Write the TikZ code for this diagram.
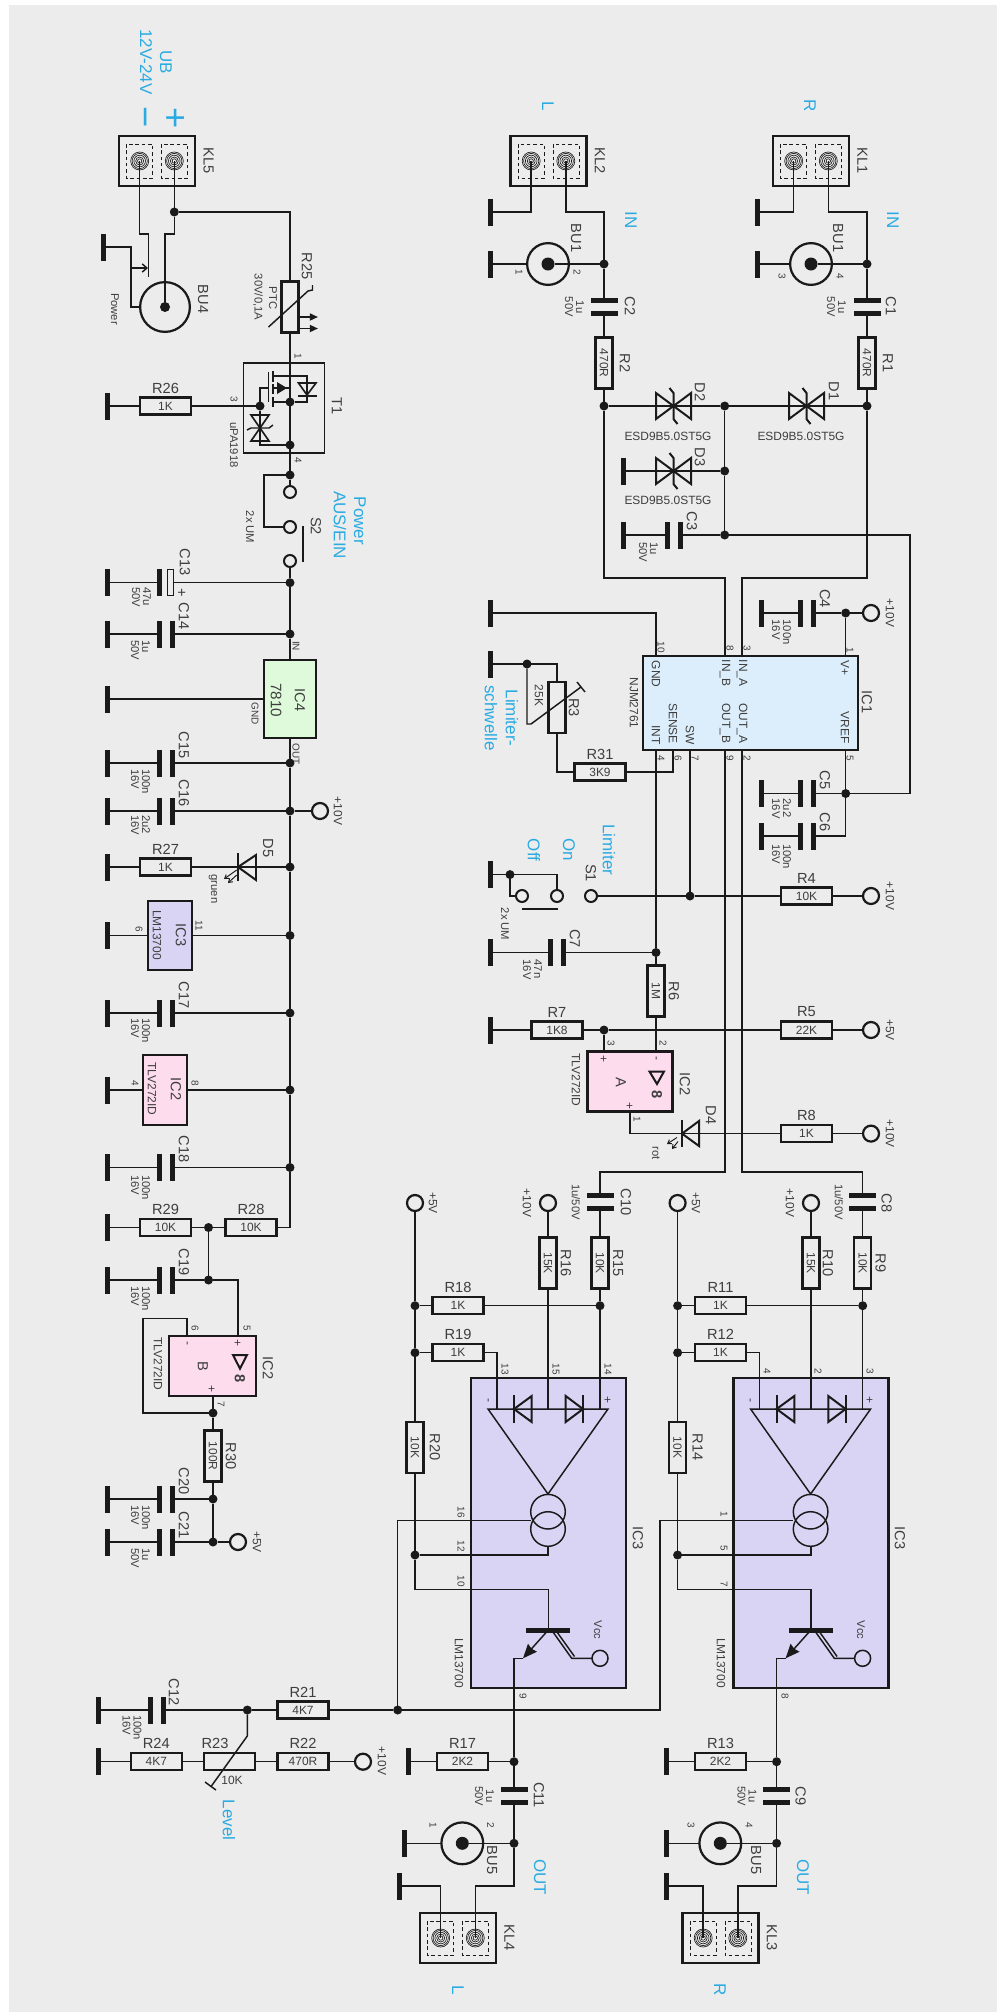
\documentclass[tikz,border=0pt]{standalone}
\usepackage{fontspec}
\setmainfont{Liberation Sans}
\usetikzlibrary{arrows.meta,calc}
\definecolor{paper}{HTML}{ECECEC}
\definecolor{ink}{HTML}{1A1A1A}
\definecolor{txt}{HTML}{3E3E3E}
\definecolor{cyanlbl}{HTML}{29ABE2}
\definecolor{icblue}{HTML}{DCEEFB}
\definecolor{icgreen}{HTML}{DFFADB}
\definecolor{icpink}{HTML}{FDDCEE}
\definecolor{icviolet}{HTML}{D9D4F4}
\newlength{\px}
\setlength{\px}{0.03cm}
\tikzset{
 every node/.style={outer sep=0pt},
 wire/.style={draw=ink,line width=1.25pt},
 sym/.style={draw=ink,line width=1.7pt,line join=miter},
 thinsym/.style={draw=ink,line width=0.55pt},
 partname/.style={font=\fontsize{12.5}{13}\selectfont,text=txt,inner sep=0pt},
 partval/.style={font=\fontsize{10.2}{11}\selectfont,text=txt,inner sep=0pt},
 capval/.style={font=\fontsize{9.6}{9.4}\selectfont,text=txt,inner sep=0pt},
 pinno/.style={font=\fontsize{8.5}{9}\selectfont,text=txt,inner sep=0pt},
 bluetxt/.style={font=\fontsize{14.5}{15}\selectfont,text=cyanlbl,inner sep=0pt},
 rot/.style={rotate=-90},
 res/.style={draw=ink,line width=1.9pt,rectangle,minimum width=51\px,minimum height=17\px,inner sep=0pt,font=\fontsize{10.2}{11}\selectfont,text=txt},
 junc/.style={circle,fill=ink,minimum size=9\px,inner sep=0pt},
 gnd/.style={rectangle,fill=ink,minimum width=5\px,minimum height=27\px,inner sep=0pt},
 vplate/.style={rectangle,fill=ink,minimum width=5\px,minimum height=27\px,inner sep=0pt},
 hplate/.style={rectangle,fill=ink,minimum width=27\px,minimum height=5\px,inner sep=0pt},
 ring/.style={circle,draw=ink,line width=1.9pt,minimum size=16\px,inner sep=0pt},
 swring/.style={circle,draw=ink,line width=1.7pt,minimum size=12\px,inner sep=0pt},
 icbox/.style={rectangle,draw=ink,line width=1.9pt,inner sep=0pt},
}
\newcommand{\reshor}[5][0]{
 \node[res] (#2) at (#3,#4) {#5};
 \node[partname] (#2n) at ($(#3,#4)+(#1,-18)$) {#2};
}
\newcommand{\resver}[5][19]{
 \node[res,rot] (#2) at (#3,#4) {#5};
 \node[partname,rot] (#2n) at ($(#3,#4)+(#1,0)$) {#2};
}
\newcommand{\capv}[5]{
 \node[vplate] (#1a) at (#2-6.5,#3) {};
 \node[vplate] (#1b) at (#2+6.5,#3) {};
 \node[partname,rot] (#1n) at (#4,#5) {#1};
}
\newcommand{\caph}[5]{
 \node[hplate] (#1a) at (#2,#3-6.5) {};
 \node[hplate] (#1b) at (#2,#3+6.5) {};
 \node[partname,rot] (#1n) at (#4,#5) {#1};
}
\newcommand{\twoval}[5]{
 \node[capval,rot,anchor=west,align=left] (#1v) at (#2,#3) {#4\\#5};
}
\newcommand{\midval}[5]{
 \node[capval,rot,align=center] (#1v) at (#2,#3) {#4\\#5};
}
\newcommand{\klemme}[3]{
 \node[icbox,minimum width=76\px,minimum height=50\px] (#1) at (#2,#3) {};
 \draw[line width=0.85pt,draw=ink,dash pattern=on 3pt off 2.4pt] (#2-30.5,#3-17) rectangle (#2-4.5,#3+17);
 \draw[line width=0.85pt,draw=ink,dash pattern=on 3pt off 2.4pt] (#2+4.5,#3-17) rectangle (#2+30.5,#3+17);
 \coordinate (#1a) at (#2-17.3,#3);
 \coordinate (#1b) at (#2+17.3,#3);
 \foreach \r in {2.2,4,5.8,7.6,9}{
  \draw[thinsym] (#1a) circle (\r\px);
  \draw[thinsym] (#1b) circle (\r\px);
 }
 \node[partname,rot] (#1n) at (#2+51.5,#3) {#1};
}
\newcommand{\buchse}[5]{
 \node[circle,draw=ink,line width=1.9pt,minimum size=#4*2\px-1.9pt,inner sep=0pt] (#1) at (#2,#3) {};
 \node[circle,fill=ink,minimum size=#5*2\px,inner sep=0pt] (#1c) at (#2,#3) {};
}
\newcommand{\tvsdiode}[2]{
 \draw[sym] (#1,#2) -- (#1-17.5,#2-13) -- (#1-17.5,#2+13) -- cycle;
 \draw[sym] (#1,#2) -- (#1+17.5,#2-13) -- (#1+17.5,#2+13) -- cycle;
 \draw[sym] (#1-4,#2-18) -- (#1,#2-13) -- (#1,#2+13) -- (#1+4,#2+18);
}
\newcommand{\lmcore}[2]{
 \begin{scope}[shift={(#2,0)}]
 \draw[wire] (488,1409) -- (608,1409) -- (548,1494) -- cycle;
 \draw[sym] (531.7,1396) -- (531.7,1422) -- (514,1409) -- cycle;
 \draw[sym] (514,1395) -- (514,1423);
 \draw[sym] (565.7,1396) -- (565.7,1422) -- (583,1409) -- cycle;
 \draw[sym] (583,1395) -- (583,1423);
 \draw[wire] (548,1511.7) circle (17.3\px);
 \draw[wire] (548,1529) circle (17.3\px);
 \node[rectangle,fill=ink,minimum width=44\px,minimum height=5\px,inner sep=0pt] (#1bar) at (548.3,1630) {};
 \node[circle,draw=ink,line width=1.3pt,minimum size=16\px,inner sep=0pt] (#1vcc) at (600,1658.3) {};
 \coordinate (#1e) at (514,1658.3);
 \coordinate (#1k) at (523,1658.3);
 \draw[wire,-{Stealth[length=12pt,width=10pt,inset=1pt]}] (#1bar) -- (#1k);
 \draw[wire] (#1k) -- (#1e);
 \draw[wire] (553,1632) -- (571.7,1658.3) -- (#1vcc);
 \draw[wire] (557,1632) -- (574.5,1656.5);
 \end{scope}
}

\begin{document}
\begin{tikzpicture}[x=0.03cm,y=-0.03cm]
 \useasboundingbox (0,0) rectangle (1008,2012);
 \fill[paper] (9,5) rectangle (997,2012);

 \klemme{KL5}{157}{161}
 \node[bluetxt,rot] (tub) at (166,62) {UB};
 \node[bluetxt,rot] (tubv) at (146,62) {12V-24V};
 \node[bluetxt,rot,font=\fontsize{31}{31}\selectfont] (tminus) at (140,117.5) {−};
 \node[bluetxt,rot,font=\fontsize{31}{31}\selectfont] (tplus) at (174,118) {+};
 \node[junc] (j1) at (174.3,212) {};
 \buchse{BU4}{165}{307}{26}{5}
 \node[partname,rot] (tBU4) at (203,299) {BU4};
 \node[capval,rot] (tpower) at (115,309) {Power};
 \coordinate (cont) at (148.5,277);
 \coordinate (cbrk) at (131,268);
 \draw[wire] (KL5a) -- (139.7,234) -- (148.5,234) -- (cont);
 \draw[wire] (KL5b) -- (j1);
 \draw[wire] (j1) -- (174.3,234) -- (165,234) -- (BU4c);
 \node[gnd] (gBU4) at (103,247) {};
 \draw[wire] (gBU4) -- (131,247) -- (131,307) -- (BU4);
 \draw[wire,-{Straight Barb[length=4pt,width=7pt]}] (cbrk) -- (148,268);

 \node[res,rot] (R25) at (290,307) {};
 \node[partname,rot] (tR25) at (307,266) {R25};
 \node[capval,rot] (tptc) at (273,298) {PTC};
 \node[capval,rot] (tptcv) at (258,297) {30V/0,1A};
 \draw[wire] (268.5,327) -- (308,291) -- (312.5,290) -- (312.5,285);
 \draw[wire,line width=1.5pt,-{Stealth[length=7pt,width=6pt,inset=0pt]}] (300,317) -- (318,317);
 \draw[wire,line width=1.5pt,-{Stealth[length=7pt,width=6pt,inset=0pt]}] (300,328.5) -- (318,328.5);
 \draw[wire] (j1) -| (R25);

 \node[icbox,line width=1.6pt,minimum width=81\px,minimum height=90\px] (T1) at (284,408) {};
 \node[partname,rot] (tT1) at (337,406) {T1};
 \node[capval,rot] (tT1v) at (234,445) {uPA1918};
 \node[pinno,rot] (pT1a) at (298,356) {1};
 \node[pinno,rot] (pT1b) at (234,399) {3};
 \node[pinno,rot] (pT1c) at (298,460) {4};
 \node[junc] (j2) at (290,402) {};
 \node[junc] (j3) at (290,445) {};
 \node[junc] (j4) at (290,475) {};
 \node[junc] (j5) at (260,406) {};
 \draw[wire] (R25) -- (j4);
 \reshor{R26}{165.5}{406}{1K}
 \node[gnd] (gR26) at (107,406) {};
 \draw[wire] (gR26) -- (R26);
 \draw[wire] (R26) -- (j5);
 \draw[wire] (268.5,372) -- (268.5,402);
 \draw[wire] (j5) |- (268.5,388);
 \draw[sym] (273,371) -- (273,382);
 \draw[sym] (273,384) -- (273,394);
 \draw[sym] (273,397) -- (273,407);
 \draw[wire] (273,376) -- (307,376) -- (307,402) -- (j2);
 \draw[wire] (273,388) -- (290,388);
 \draw[wire] (273,402) -- (j2);
 \fill[ink] (277,382) -- (287,388) -- (277,394) -- cycle;
 \draw[sym,line width=1.4pt] (298.5,383) -- (316,383) -- (307,395) -- cycle;
 \draw[sym,line width=1.4pt] (298,396) -- (317,396);
 \draw[sym,line width=1.4pt] (251,415) -- (269,415) -- (260,428) -- cycle;
 \draw[sym,line width=1.4pt] (251,441) -- (269,441) -- (260,428) -- cycle;
 \draw[sym,line width=1.2pt] (247,430) -- (251,428) -- (269,428) -- (273,425);
 \draw[wire] (j5) |- (j3);

 \node[swring] (S2a) at (290,492) {};
 \node[swring] (S2b) at (290,527) {};
 \node[swring] (S2c) at (290,561) {};
 \node[junc] (j6) at (290,582.7) {};
 \draw[wire] (j4) -- (S2a);
 \draw[wire] (j4) -- (264,475) -- (264,527) -- (S2b);
 \draw[wire] (S2c) -- (j6);
 \draw[sym] (303,526) -- (303,562);
 \node[partname,rot] (tS2) at (316,526) {S2};
 \node[capval,rot] (tS2v) at (250,527) {2x UM};
 \node[bluetxt,rot] (tpow) at (360,521) {Power};
 \node[bluetxt,rot] (tausein) at (340,525) {AUS/EIN};

 \node[icbox,fill=icgreen,minimum width=52\px,minimum height=78\px] (IC4) at (290,699) {};
 \node[partname,rot] (tIC4) at (300,700) {IC4};
 \node[partname,rot,font=\fontsize{13}{13}\selectfont] (tIC4v) at (276,700) {7810};
 \node[pinno,rot] (pIC4a) at (296,646) {IN};
 \node[pinno,rot] (pIC4b) at (255,714) {GND};
 \node[pinno,rot] (pIC4c) at (296,754) {OUT};
 \node[gnd] (gIC4) at (107,699) {};
 \draw[wire] (gIC4) -- (IC4);

 \node[junc] (j7) at (290,634) {};
 \node[junc] (j8) at (290,763) {};
 \node[junc] (j9) at (290,811) {};
 \node[junc] (j10) at (290,867) {};
 \node[junc] (j11) at (290,935.5) {};
 \node[junc] (j12) at (290,1013) {};
 \node[junc] (j13) at (290,1090) {};
 \node[junc] (j14) at (290,1167.5) {};
 \draw[wire] (j6) -- (j7);
 \draw[wire] (j7) -- (IC4);
 \draw[wire] (IC4) -- (j8);
 \draw[wire] (j8) -- (j9);
 \draw[wire] (j9) -- (j10);
 \draw[wire] (j10) -- (j11);
 \draw[wire] (j11) -- (j12);
 \draw[wire] (j12) -- (j13);
 \draw[wire] (j13) -- (j14);

 \node[gnd] (gC13) at (107,582.7) {};
 \node[vplate] (C13a) at (159,582.7) {};
 \node[rectangle,draw=ink,line width=1.1pt,minimum width=6\px,minimum height=26\px,inner sep=0pt] (C13b) at (170.5,582.7) {};
 \node[partname,rot] (C13n) at (185,562) {C13};
 \node[partname,rot] (C13p) at (181,593) {+};
 \twoval{C13}{141.5}{587}{47u}{50V}
 \draw[wire] (gC13) -- (C13a);
 \draw[wire] (C13b) -- (j6);

 \node[gnd] (gC14) at (107,634) {};
 \capv{C14}{165.5}{634}{184}{616}
 \twoval{C14}{140.5}{640}{1u}{50V}
 \draw[wire] (gC14) -- (C14a);
 \draw[wire] (C14b) -- (j7);

 \node[gnd] (gC15) at (107,763) {};
 \capv{C15}{165.5}{763}{184}{745}
 \twoval{C15}{140.5}{769}{100n}{16V}
 \draw[wire] (gC15) -- (C15a);
 \draw[wire] (C15b) -- (j8);

 \node[gnd] (gC16) at (107,811) {};
 \capv{C16}{165.5}{811}{184}{793}
 \twoval{C16}{140.5}{815}{2u2}{16V}
 \draw[wire] (gC16) -- (C16a);
 \draw[wire] (C16b) -- (j9);
 \node[ring] (rp10a) at (320,811) {};
 \node[partval,rot] (tp10a) at (338,811) {+10V};
 \draw[wire] (j9) -- (rp10a);

 \node[gnd] (gR27) at (107,867) {};
 \reshor{R27}{165.5}{867}{1K}
 \draw[wire] (gR27) -- (R27);
 \draw[wire] (R27) -- (j10);
 \draw[sym] (238,853) -- (238,881);
 \draw[sym] (238,867) -- (256,855) -- (256,880) -- cycle;
 \draw[thinsym,line width=0.8pt,-{Straight Barb[length=3pt,width=4pt]}] (236.7,870) -- (224,879);
 \draw[thinsym,line width=0.8pt,-{Straight Barb[length=3pt,width=4pt]}] (236.7,875) -- (228,883);
 \node[partname,rot] (tD5) at (268,848) {D5};
 \node[capval,rot] (tD5v) at (213,889) {gruen};

 \node[gnd] (gIC3s) at (107,935.5) {};
 \node[icbox,fill=icviolet,minimum width=44\px,minimum height=69\px] (IC3s) at (170,935.5) {};
 \node[partname,rot] (tIC3s) at (181,935) {IC3};
 \node[partval,rot] (tIC3sv) at (157,935) {LM13700};
 \node[pinno,rot] (pIC3sa) at (139,929) {6};
 \node[pinno,rot] (pIC3sb) at (199,926) {11};
 \draw[wire] (gIC3s) -- (IC3s);
 \draw[wire] (IC3s) -- (j11);

 \node[gnd] (gC17) at (107,1013) {};
 \capv{C17}{165.5}{1013}{184}{995}
 \twoval{C17}{140.5}{1018}{100n}{16V}
 \draw[wire] (gC17) -- (C17a);
 \draw[wire] (C17b) -- (j12);

 \node[gnd] (gIC2s) at (107,1090) {};
 \node[icbox,fill=icpink,minimum width=44\px,minimum height=70\px] (IC2s) at (165,1090) {};
 \node[partname,rot] (tIC2s) at (176,1089) {IC2};
 \node[partval,rot] (tIC2sv) at (152,1089) {TLV272ID};
 \node[pinno,rot] (pIC2sa) at (135,1083) {4};
 \node[pinno,rot] (pIC2sb) at (195,1083) {8};
 \draw[wire] (gIC2s) -- (IC2s);
 \draw[wire] (IC2s) -- (j13);

 \node[gnd] (gC18) at (107,1167.5) {};
 \capv{C18}{165.5}{1167.5}{184}{1149}
 \twoval{C18}{140.5}{1175}{100n}{16V}
 \draw[wire] (gC18) -- (C18a);
 \draw[wire] (C18b) -- (j14);

 \node[gnd] (gR29) at (107,1227.5) {};
 \reshor{R29}{165.5}{1227.5}{10K}
 \node[junc] (j15) at (208.5,1227.5) {};
 \reshor{R28}{251}{1227.5}{10K}
 \draw[wire] (gR29) -- (R29);
 \draw[wire] (R29) -- (j15);
 \draw[wire] (j15) -- (R28);
 \draw[wire] (R28) -| (j14);

 \node[gnd] (gC19) at (107,1280) {};
 \capv{C19}{165.5}{1280}{184}{1262}
 \twoval{C19}{140.5}{1286}{100n}{16V}
 \node[junc] (j16) at (208.5,1280) {};
 \draw[wire] (gC19) -- (C19a);
 \draw[wire] (C19b) -- (j16);
 \draw[wire] (j15) -- (j16);

 \node[icbox,fill=icpink,minimum width=87\px,minimum height=60\px] (IC2b) at (212.5,1366) {};
 \node[partname,rot] (tIC2b) at (268,1368) {IC2};
 \node[partval,rot] (tIC2bv) at (158,1364) {TLV272ID};
 \node[pinno,rot] (pIC2ba) at (247,1328) {5};
 \node[pinno,rot] (pIC2bb) at (195,1328) {6};
 \node[pinno,rot] (pIC2bc) at (221,1404) {7};
 \node[partval,rot] (tIC2bp) at (237,1343) {+};
 \node[partval,rot] (tIC2bm) at (186,1343) {-};
 \node[partval,rot] (tIC2bq) at (211,1389) {+};
 \node[partname,rot] (tIC2bB) at (203,1366) {B};
 \draw[sym] (233,1355) -- (247,1355) -- (240,1368.6) -- cycle;
 \node[partname,rot,font=\fontsize{12.5}{13}\bfseries] (tIC2b8) at (240,1379) {8};
 \coordinate (pIC2b5) at (238,1336);
 \coordinate (pIC2b6) at (187,1336);
 \coordinate (pIC2b7) at (213,1396);
 \node[junc] (j17) at (213,1413) {};
 \draw[wire] (j16) -| (pIC2b5);
 \draw[wire] (pIC2b6) -- (187,1318.6) -- (143,1318.6) -- (143,1413) -- (j17);
 \draw[wire] (pIC2b7) -- (j17);
 \resver[18]{R30}{213}{1456}{100R}
 \node[junc] (j18) at (213,1499) {};
 \node[junc] (j19) at (213,1542) {};
 \node[ring] (rp5a) at (238,1542) {};
 \node[partval,rot] (tp5a) at (257,1542) {+5V};
 \draw[wire] (j17) -- (R30);
 \draw[wire] (R30) -- (j18);
 \draw[wire] (j18) -- (j19);
 \draw[wire] (j19) -- (rp5a);
 \node[gnd] (gC20) at (107,1499) {};
 \capv{C20}{165.5}{1499}{184}{1481}
 \twoval{C20}{140.5}{1505}{100n}{16V}
 \draw[wire] (gC20) -- (C20a);
 \draw[wire] (C20b) -- (j18);
 \node[gnd] (gC21) at (107,1542) {};
 \capv{C21}{165.5}{1542}{184}{1525}
 \twoval{C21}{140.5}{1548}{1u}{50V}
 \draw[wire] (gC21) -- (C21a);
 \draw[wire] (C21b) -- (j19);

 \klemme{KL2}{548.5}{161}
 \klemme{KL1}{811}{161}
 \node[bluetxt,rot] (tLi) at (548,106) {L};
 \node[bluetxt,rot] (tRi) at (810,106) {R};
 \node[bluetxt,rot] (tINl) at (631,220) {IN};
 \node[bluetxt,rot] (tINr) at (893,220) {IN};
 \node[gnd] (gKL2) at (490,212) {};
 \node[gnd] (gBU1l) at (490,264) {};
 \node[gnd] (gKL1) at (757,212) {};
 \node[gnd] (gBU1r) at (757,264) {};
 \buchse{BU1l}{548}{264}{22}{6.5}
 \buchse{BU1r}{811}{264}{22}{6.5}
 \node[partname,rot] (tBU1l) at (576,238) {BU1};
 \node[partname,rot] (tBU1r) at (838,238) {BU1};
 \node[pinno,rot] (pBUa) at (519,272) {1};
 \node[pinno,rot] (pBUb) at (577,272) {2};
 \node[pinno,rot] (pBUc) at (782,276) {3};
 \node[pinno,rot] (pBUd) at (840,276) {4};
 \node[junc] (j20) at (604,264) {};
 \node[junc] (j20r) at (867,264) {};
 \draw[wire] (KL2a) |- (gKL2);
 \draw[wire] (KL2b) -- (565.8,212) -- (604,212) -- (j20);
 \draw[wire] (gBU1l) -- (BU1l);
 \draw[wire] (BU1lc) -- (j20);
 \draw[wire] (KL1a) |- (gKL1);
 \draw[wire] (KL1b) -- (828.3,212) -- (867,212) -- (j20r);
 \draw[wire] (gBU1r) -- (BU1r);
 \draw[wire] (BU1rc) -- (j20r);
 \caph{C2}{604}{307}{630}{306}
 \caph{C1}{867}{307}{891}{306}
 \midval{C2}{574.5}{307}{1u}{50V}
 \midval{C1}{836.5}{307}{1u}{50V}
 \resver[21]{R2}{604}{363}{470R}
 \resver[21]{R1}{867}{363}{470R}
 \node[junc] (j21) at (604,406) {};
 \node[junc] (j22) at (724.7,406) {};
 \node[junc] (j23) at (867,406) {};
 \draw[wire] (j20) -- (C2a);
 \draw[wire] (C2b) -- (R2);
 \draw[wire] (R2) -- (j21);
 \draw[wire] (j20r) -- (C1a);
 \draw[wire] (C1b) -- (R1);
 \draw[wire] (R1) -- (j23);
 \draw[wire] (j21) -- (j22);
 \draw[wire] (j22) -- (j23);
 \tvsdiode{673.5}{406}
 \tvsdiode{806.5}{406}
 \tvsdiode{673.5}{471}
 \node[partname,rot] (tD2) at (700,392) {D2};
 \node[partname,rot] (tD1) at (834,391) {D1};
 \node[partname,rot] (tD3) at (700,457) {D3};
 \node[partval] (tD2v) at (668,436) {ESD9B5.0ST5G};
 \node[partval] (tD1v) at (801,436) {ESD9B5.0ST5G};
 \node[partval] (tD3v) at (668,500) {ESD9B5.0ST5G};
 \node[gnd] (gD3) at (623,471) {};
 \node[junc] (j24) at (724.7,471) {};
 \node[junc] (j25) at (724.7,535) {};
 \draw[wire] (gD3) -- (j24);
 \draw[wire] (j22) -- (j24);
 \draw[wire] (j24) -- (j25);
 \node[gnd] (gC3) at (623,535) {};
 \capv{C3}{673.5}{535}{692}{521}
 \twoval{C3}{648.5}{542}{1u}{50V}
 \draw[wire] (gC3) -- (C3a);
 \draw[wire] (C3b) -- (j25);

 \node[icbox,fill=icblue,minimum width=215\px,minimum height=94\px] (IC1) at (750.5,703) {};
 \node[partname,rot] (tIC1) at (867,702) {IC1};
 \node[partval,rot] (tIC1v) at (634,703) {NJM2761};
 \node[partval,rot] (tGND) at (656,674) {GND};
 \node[partval,rot] (tINB) at (725,673) {IN\_B};
 \node[partval,rot] (tINA) at (742,673) {IN\_A};
 \node[partval,rot] (tVp) at (845,668) {V+};
 \node[partval,rot] (tINT) at (656,735) {INT};
 \node[partval,rot] (tSENSE) at (673,723.5) {SENSE};
 \node[partval,rot] (tSW) at (690,735) {SW};
 \node[partval,rot] (tOUTB) at (725,723.5) {OUT\_B};
 \node[partval,rot] (tOUTA) at (742,723.5) {OUT\_A};
 \node[partval,rot] (tVREF) at (845,727.5) {VREF};
 \node[pinno,rot] (pIC1a) at (661,647) {10};
 \node[pinno,rot] (pIC1b) at (730,648) {8};
 \node[pinno,rot] (pIC1c) at (747,648) {3};
 \node[pinno,rot] (pIC1d) at (850,650) {1};
 \node[pinno,rot] (pIC1e) at (661,758) {4};
 \node[pinno,rot] (pIC1f) at (678,758) {6};
 \node[pinno,rot] (pIC1g) at (695,758) {7};
 \node[pinno,rot] (pIC1h) at (730,758) {9};
 \node[pinno,rot] (pIC1i) at (747,758) {2};
 \node[pinno,rot] (pIC1j) at (850,758) {5};
 \coordinate (iGND) at (656,656);
 \coordinate (iINB) at (725,656);
 \coordinate (iINA) at (742,656);
 \coordinate (iVp) at (845.7,656);
 \coordinate (iINT) at (656,750);
 \coordinate (iSEN) at (673,750);
 \coordinate (iSW) at (690,750);
 \coordinate (iOUTB) at (725,750);
 \coordinate (iOUTA) at (742,750);
 \coordinate (iREF) at (845.7,750);
 \draw[wire] (j21) -- (604,578) -- (725,578) -- (iINB);
 \draw[wire] (j23) -- (867,578) -- (742,578) -- (iINA);
 \node[gnd] (gIC1) at (490,613) {};
 \draw[wire] (gIC1) -| (iGND);

 \node[gnd] (gC4) at (761,613) {};
 \capv{C4}{806.5}{613}{825}{598.6}
 \twoval{C4}{781.5}{619.5}{100n}{16V}
 \node[junc] (j27) at (845.7,613) {};
 \node[ring] (rp10b) at (871,613) {};
 \node[partval,rot] (tp10b) at (890,613) {+10V};
 \draw[wire] (gC4) -- (C4a);
 \draw[wire] (C4b) -- (j27);
 \draw[wire] (j27) -- (rp10b);
 \draw[wire] (j27) -- (iVp);

 \node[gnd] (gC5) at (761,793.5) {};
 \capv{C5}{806.5}{793.5}{825}{780}
 \twoval{C5}{781.5}{798.6}{2u2}{16V}
 \node[gnd] (gC6) at (761,836) {};
 \capv{C6}{806.5}{836}{825}{822}
 \twoval{C6}{781.5}{844}{100n}{16V}
 \node[junc] (j26) at (845.7,793.5) {};
 \draw[wire] (gC5) -- (C5a);
 \draw[wire] (C5b) -- (j26);
 \draw[wire] (gC6) -- (C6a);
 \draw[wire] (iREF) -- (j26);
 \draw[wire] (j26) |- (C6b);
 \draw[wire] (j25) -- (910,535) -- (910,793.5) -- (j26);

 \node[gnd] (gR3) at (490,664) {};
 \node[junc] (j30) at (527,664) {};
 \resver[17]{R3}{557}{707.5}{}
 \node[partval,rot] (tR3v) at (539,695.5) {25K};
 \reshor{R31}{600}{772}{3K9}
 \node[bluetxt,rot] (tlim) at (512,718) {Limiter-};
 \node[bluetxt,rot] (tsch) at (491,718) {schwelle};
 \draw[wire] (R3) |- (gR3);
 \draw[wire] (j30) -- (527,724) -- (531,724) -- (581,687);
 \draw[wire] (577,682) -- (585,692);
 \draw[wire] (iSEN) |- (R31);
 \draw[wire] (R31) -| (R3);

 \node[junc] (j28) at (656,952.5) {};
 \node[junc] (j31) at (690,896) {};
 \draw[wire] (iINT) -- (j28);
 \draw[wire] (iSW) -- (j31);
 \node[swring] (S1a) at (591,896) {};
 \node[swring] (S1b) at (522,896) {};
 \node[swring] (S1c) at (557,896) {};
 \node[gnd] (gS1) at (490,874.6) {};
 \node[junc] (j32) at (510,874.6) {};
 \draw[sym] (522,909) -- (558,909);
 \draw[wire] (gS1) -| (S1c);
 \draw[wire] (j32) |- (S1b);
 \node[partname,rot] (tS1) at (591,873) {S1};
 \node[capval,rot] (tS1v) at (505,924) {2x UM};
 \node[bluetxt,rot] (tlimit) at (609,850) {Limiter};
 \node[bluetxt,rot] (ton) at (569,850) {On};
 \node[bluetxt,rot] (toff) at (534,850) {Off};
 \reshor{R4}{806.5}{896}{10K}
 \node[ring] (rp10c) at (871,896) {};
 \node[partval,rot] (tp10c) at (890,896) {+10V};
 \draw[wire] (S1a) -- (j31);
 \draw[wire] (j31) -- (R4);
 \draw[wire] (R4) -- (rp10c);

 \node[gnd] (gC7) at (490,952.5) {};
 \capv{C7}{557}{952.5}{575}{938.6}
 \twoval{C7}{532.5}{959.6}{47n}{16V}
 \draw[wire] (gC7) -- (C7a);
 \draw[wire] (C7b) -- (j28);
 \resver[18]{R6}{656}{991}{1M}
 \draw[wire] (j28) -- (R6);

 \node[gnd] (gR7) at (490,1030) {};
 \reshor{R7}{557}{1030}{1K8}
 \node[junc] (j33) at (604,1030) {};
 \reshor{R5}{806.5}{1030}{22K}
 \node[ring] (rp5b) at (871,1030) {};
 \node[partval,rot] (tp5b) at (890,1030) {+5V};
 \draw[wire] (gR7) -- (R7);
 \draw[wire] (R7) -- (j33);
 \draw[wire] (j33) -- (R5);
 \draw[wire] (R5) -- (rp5b);

 \node[icbox,fill=icpink,minimum width=85\px,minimum height=60\px] (IC2a) at (630,1081.5) {};
 \node[partname,rot] (tIC2a) at (685,1084) {IC2};
 \node[partval,rot] (tIC2av) at (576,1080) {TLV272ID};
 \node[pinno,rot] (pIC2aa) at (611,1043) {3};
 \node[pinno,rot] (pIC2ab) at (663,1043) {2};
 \node[pinno,rot] (pIC2ac) at (637,1119) {1};
 \node[partval,rot] (tIC2ap) at (603,1058.5) {+};
 \node[partval,rot] (tIC2am) at (655,1058.5) {-};
 \node[partval,rot] (tIC2aq) at (629,1106) {+};
 \node[partname,rot] (tIC2aA) at (621,1082) {A};
 \draw[sym] (649.5,1071.5) -- (664,1071.5) -- (657,1084) -- cycle;
 \node[partname,rot,font=\fontsize{12.5}{13}\bfseries] (tIC2a8) at (657,1095) {8};
 \coordinate (iIC2a2) at (656,1051);
 \coordinate (iIC2a3) at (604,1051);
 \coordinate (iIC2a1) at (630,1112);
 \draw[wire] (R6) -- (iIC2a2);
 \draw[wire] (j33) -- (iIC2a3);
 \reshor{R8}{806.5}{1133.6}{1K}
 \node[ring] (rp10d) at (871,1133.6) {};
 \node[partval,rot] (tp10d) at (890,1133.6) {+10V};
 \draw[wire] (iIC2a1) |- (R8);
 \draw[wire] (R8) -- (rp10d);
 \draw[sym] (682,1120) -- (682,1147);
 \draw[sym] (682,1133.6) -- (699,1121) -- (699,1146) -- cycle;
 \draw[thinsym,line width=0.8pt,-{Straight Barb[length=3pt,width=4pt]}] (677,1137.5) -- (667,1144);
 \draw[thinsym,line width=0.8pt,-{Straight Barb[length=3pt,width=4pt]}] (678,1141.5) -- (672,1149);
 \node[partname,rot] (tD4) at (711,1115) {D4};
 \node[capval,rot] (tD4v) at (656,1153) {rot};

 \node[icbox,fill=icviolet,minimum width=155\px,minimum height=310\px] (IC3l) at (548.5,1533) {};
 \node[icbox,fill=icviolet,minimum width=155\px,minimum height=310\px] (IC3r) at (811,1533) {};
 \lmcore{ql}{0}
 \lmcore{qr}{262.6}
 \node[partname,rot] (tIC3l) at (638,1538) {IC3};
 \node[partname,rot] (tIC3r) at (900,1538) {IC3};
 \node[partval,rot] (tIC3lv) at (459,1663) {LM13700};
 \node[partval,rot] (tIC3rv) at (721,1663) {LM13700};
 \node[capval,rot] (tVccl) at (598,1630) {Vcc};
 \node[capval,rot] (tVccr) at (861,1630) {Vcc};
 \node[partval,rot] (tlm) at (487,1400) {-};
 \node[partval,rot] (tlp) at (607,1400) {+};
 \node[partval,rot] (trm) at (749,1400) {-};
 \node[partval,rot] (trp) at (869,1400) {+};
 \node[pinno,rot] (pla) at (505,1369) {13};
 \node[pinno,rot] (plb) at (556,1369) {15};
 \node[pinno,rot] (plc) at (608,1369) {14};
 \node[pinno,rot] (pld) at (461,1512) {16};
 \node[pinno,rot] (ple) at (461,1546) {12};
 \node[pinno,rot] (plf) at (461,1581) {10};
 \node[pinno,rot] (plg) at (523,1696) {9};
 \node[pinno,rot] (pra) at (767,1371) {4};
 \node[pinno,rot] (prb) at (818,1371) {2};
 \node[pinno,rot] (prc) at (870,1371) {3};
 \node[pinno,rot] (prd) at (724,1514) {1};
 \node[pinno,rot] (pre) at (724,1548) {5};
 \node[pinno,rot] (prf) at (724,1584) {7};
 \node[pinno,rot] (prg) at (785,1696) {8};

 \caph{C10}{600}{1202}{626}{1202}
 \caph{C8}{862.7}{1202}{886.7}{1203}
 \node[capval,rot] (C10v) at (576,1202) {1u/50V};
 \node[capval,rot] (C8v) at (839,1202) {1u/50V};
 \draw[wire] (iOUTB) -- (725,1172) -- (600,1172) -- (C10a);
 \draw[wire] (iOUTA) -- (742,1172) -- (862.7,1172) -- (C8a);

 \node[ring] (rp5l) at (415,1203) {};
 \node[partval,rot] (tp5l) at (433,1203) {+5V};
 \node[ring] (rp10l) at (548,1203) {};
 \node[partval,rot] (tp10l) at (527,1203) {+10V};
 \resver[18]{R16}{548}{1263}{15K}
 \resver[18]{R15}{600}{1263}{10K}
 \reshor{R18}{458}{1305.7}{1K}
 \reshor{R19}{458}{1352.7}{1K}
 \resver[20]{R20}{415}{1447.4}{10K}
 \node[junc] (j40) at (415,1305.7) {};
 \node[junc] (j41) at (415,1352.7) {};
 \node[junc] (j42) at (415,1555) {};
 \node[junc] (j43) at (600,1305.7) {};
 \coordinate (lm) at (497,1409);
 \coordinate (lb) at (548,1409);
 \coordinate (lp) at (600,1409);
 \coordinate (lc) at (530.7,1520.7);
 \coordinate (ls) at (548,1546.3);
 \draw[wire] (rp5l) -- (j40);
 \draw[wire] (j40) -- (j41);
 \draw[wire] (j41) -- (R20);
 \draw[wire] (R20) -- (j42);
 \draw[wire] (j42) -- (415,1589.3) -| (qlbar);
 \draw[wire] (j42) -| (ls);
 \draw[wire] (j40) -- (R18);
 \draw[wire] (R18) -- (j43);
 \draw[wire] (j41) -- (R19);
 \draw[wire] (R19) -| (lm);
 \draw[wire] (rp10l) -- (R16);
 \draw[wire] (R16) -- (lb);
 \draw[wire] (C10b) -- (R15);
 \draw[wire] (R15) -- (j43);
 \draw[wire] (j43) -- (lp);

 \node[ring] (rp5r) at (677.6,1203) {};
 \node[partval,rot] (tp5r) at (696,1203) {+5V};
 \node[ring] (rp10r) at (811,1203) {};
 \node[partval,rot] (tp10r) at (790,1203) {+10V};
 \resver[17]{R10}{811}{1263}{15K}
 \resver[18]{R9}{862.7}{1263}{10K}
 \reshor{R11}{720.5}{1305.7}{1K}
 \reshor{R12}{720.5}{1352.7}{1K}
 \resver[20]{R14}{677.6}{1447.4}{10K}
 \node[junc] (j44) at (677.6,1305.7) {};
 \node[junc] (j45) at (677.6,1352.7) {};
 \node[junc] (j46) at (677.6,1555) {};
 \node[junc] (j47) at (862.7,1305.7) {};
 \coordinate (rm) at (759.6,1409);
 \coordinate (rb) at (811,1409);
 \coordinate (rp) at (862.7,1409);
 \coordinate (rs) at (811,1546.3);
 \coordinate (rc) at (793.3,1520.7);
 \draw[wire] (rp5r) -- (j44);
 \draw[wire] (j44) -- (j45);
 \draw[wire] (j45) -- (R14);
 \draw[wire] (R14) -- (j46);
 \draw[wire] (j46) -- (677.6,1589.3) -| (qrbar);
 \draw[wire] (j46) -| (rs);
 \draw[wire] (j44) -- (R11);
 \draw[wire] (R11) -- (j47);
 \draw[wire] (j45) -- (R12);
 \draw[wire] (R12) -| (rm);
 \draw[wire] (rp10r) -- (R10);
 \draw[wire] (R10) -- (rb);
 \draw[wire] (C8b) -- (R9);
 \draw[wire] (R9) -- (j47);
 \draw[wire] (j47) -- (rp);

 \node[gnd] (gC12) at (98.7,1710) {};
 \capv{C12}{156.5}{1710}{174}{1692}
 \twoval{C12}{132}{1715}{100n}{16V}
 \node[junc] (j53) at (247.3,1710) {};
 \reshor{R21}{303}{1710}{4K7}
 \node[junc] (j50) at (397.7,1710) {};
 \draw[wire] (gC12) -- (C12a);
 \draw[wire] (C12b) -- (j53);
 \draw[wire] (j53) -- (R21);
 \draw[wire] (R21) -- (j50);
 \draw[wire] (j50) |- (lc);
 \draw[wire] (j50) -- (660,1710) |- (rc);

 \node[gnd] (gR24) at (98.7,1761.7) {};
 \reshor{R24}{156.3}{1761.7}{4K7}
 \reshor[-14.5]{R23}{229.5}{1761.7}{}
 \reshor{R22}{303}{1761.7}{470R}
 \node[ring] (rp10e) at (363,1761.7) {};
 \node[partval,rot] (tp10e) at (382,1761) {+10V};
 \node[partval] (tR23v) at (232,1780) {10K};
 \node[bluetxt,rot] (tlevel) at (229,1820) {Level};
 \draw[wire] (gR24) -- (R24);
 \draw[wire] (R24) -- (R23);
 \draw[wire] (R23) -- (R22);
 \draw[wire] (R22) -- (rp10e);
 \draw[wire] (j53) -- (247.3,1736) -- (210.7,1787);
 \draw[wire] (205,1782) -- (216,1790);

 \node[gnd] (gR17) at (408,1761.7) {};
 \reshor{R17}{462.5}{1761.7}{2K2}
 \node[junc] (j51) at (514,1761.7) {};
 \caph{C11}{514}{1796}{539}{1795}
 \midval{C11}{484.5}{1796}{1u}{50V}
 \node[gnd] (gBU5l) at (404,1843.3) {};
 \buchse{BU5l}{462.3}{1843.3}{22}{6.5}
 \node[junc] (j52) at (514,1843.3) {};
 \node[partname,rot] (tBU5l) at (492,1860) {BU5};
 \node[pinno,rot] (pBU5a) at (433,1825) {1};
 \node[pinno,rot] (pBU5b) at (490.7,1825) {2};
 \node[bluetxt,rot] (tOUTl) at (540,1877) {OUT};
 \klemme{KL4}{458}{1938}
 \node[gnd] (gKL4) at (399.7,1886) {};
 \node[bluetxt,rot] (tLo) at (458,1990) {L};
 \draw[wire] (qle) -- (j51);
 \draw[wire] (gR17) -- (R17);
 \draw[wire] (R17) -- (j51);
 \draw[wire] (j51) -- (C11a);
 \draw[wire] (C11b) -- (j52);
 \draw[wire] (gBU5l) -- (BU5l);
 \draw[wire] (BU5lc) -- (j52);
 \draw[wire] (j52) -- (514,1886) -| (KL4b);
 \draw[wire] (gKL4) -| (KL4a);

 \node[gnd] (gR13) at (666.7,1761.7) {};
 \reshor{R13}{720.5}{1761.7}{2K2}
 \node[junc] (j54) at (776.6,1761.7) {};
 \caph{C9}{776.6}{1796}{800.7}{1796}
 \midval{C9}{747}{1796}{1u}{50V}
 \node[gnd] (gBU5r) at (666.7,1843.3) {};
 \buchse{BU5r}{720.3}{1843.3}{22}{6.5}
 \node[junc] (j55) at (776.6,1843.3) {};
 \node[partname,rot] (tBU5r) at (756,1860) {BU5};
 \node[pinno,rot] (pBU5c) at (691,1825) {3};
 \node[pinno,rot] (pBU5d) at (749,1825) {4};
 \node[bluetxt,rot] (tOUTr) at (803,1877) {OUT};
 \klemme{KL3}{720.5}{1938}
 \node[gnd] (gKL3) at (666.7,1886) {};
 \node[bluetxt,rot] (tRo) at (720,1990) {R};
 \draw[wire] (qre) -- (j54);
 \draw[wire] (gR13) -- (R13);
 \draw[wire] (R13) -- (j54);
 \draw[wire] (j54) -- (C9a);
 \draw[wire] (C9b) -- (j55);
 \draw[wire] (gBU5r) -- (BU5r);
 \draw[wire] (BU5rc) -- (j55);
 \draw[wire] (j55) -- (776.6,1886) -| (KL3b);
 \draw[wire] (gKL3) -| (KL3a);
\end{tikzpicture}
\end{document}
